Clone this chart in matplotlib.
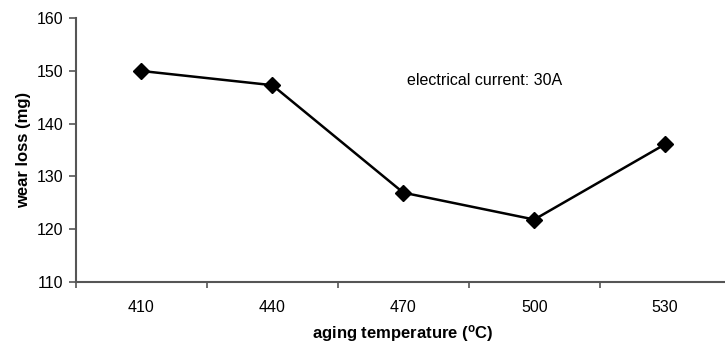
import matplotlib
matplotlib.use("Agg")
import matplotlib.pyplot as plt

# aging temperature categories and measured wear loss
temps = ["410", "440", "470", "500", "530"]
wear_loss = [150.0, 147.3, 126.9, 121.8, 136.1]
y_ticks = [110, 120, 130, 140, 150, 160]

plt.rcParams['font.family'] = ['Liberation Sans', 'DejaVu Sans']

fig = plt.figure(figsize=(7.25, 3.45), dpi=100)
ax = fig.add_axes([0.1048, 0.1835, 0.903, 0.7635])

x = list(range(len(temps)))
ax.plot(x, wear_loss, color='black', lw=1.8, marker='D', markersize=8.5,
        markerfacecolor='black', markeredgecolor='black')

ax.set_xlim(-0.5, len(temps) - 0.5)
ax.set_ylim(110, 160)
ax.set_yticks(y_ticks)
ax.set_xticks(x)
ax.set_xticklabels(temps)
# tick marks sit between categories, like a spreadsheet chart
ax.set_xticks([i + 0.5 for i in range(-1, len(temps))], minor=True)
ax.tick_params(axis='x', which='major', length=0, pad=13, labelsize=11.5)
ax.tick_params(axis='x', which='minor', length=4, width=1.2, color='#555555', direction='out')
ax.tick_params(axis='y', length=5, width=1.2, color='#555555', pad=4, labelsize=11.5)

for side in ['top', 'right']:
    ax.spines[side].set_visible(False)
for side in ['left', 'bottom']:
    ax.spines[side].set_color('#555555')
    ax.spines[side].set_linewidth(1.5)

ax.set_xlabel("aging temperature ($\\mathregular{^{o}}$C)", fontsize=12, fontweight='bold', labelpad=6)
ax.set_ylabel("wear loss (mg)", fontsize=12, fontweight='bold', labelpad=4)

ax.text(2.62, 148.2, "electrical current: 30A", fontsize=11.5, ha='center', va='center')

fig.savefig("out.png", dpi=100)
